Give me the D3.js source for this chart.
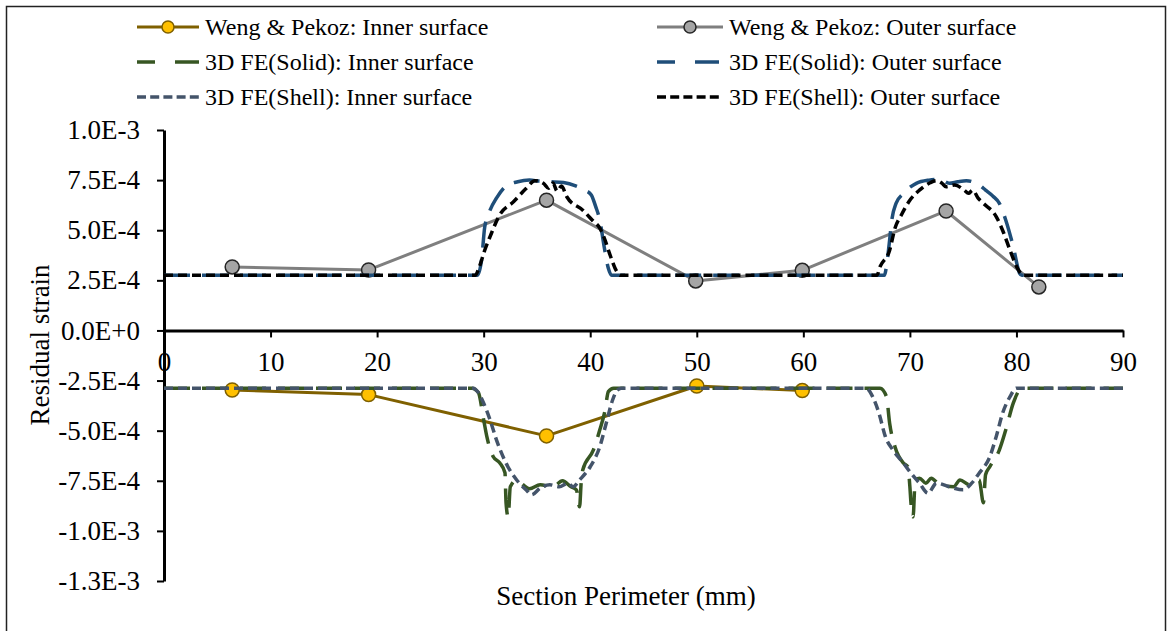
<!DOCTYPE html>
<html>
<head>
<meta charset="utf-8">
<script src="https://cdn.jsdelivr.net/npm/d3@7"></script>
<style>
  body { margin: 0; background: #fff; }
</style>
</head>
<body>
<script>
// axis ticks
var xTicks = [0, 10, 20, 30, 40, 50, 60, 70, 80, 90];
var yTicks = [1.0e-3, 7.5e-4, 5.0e-4, 2.5e-4, 0, -2.5e-4, -5.0e-4, -7.5e-4, -1.0e-3, -1.25e-3];
var yTickLabels = ["1.0E-3", "7.5E-4", "5.0E-4", "2.5E-4", "0.0E+0", "-2.5E-4", "-5.0E-4", "-7.5E-4", "-1.0E-3", "-1.3E-3"];

// Weng & Pekoz measured points
var wengInnerX = [6.4, 19.2, 35.9, 50.0, 59.9];
var wengInnerY = [-2.97e-4, -3.2e-4, -5.26e-4, -2.77e-4, -3.0e-4];
var wengOuterX = [6.4, 19.2, 35.9, 49.9, 59.9, 73.4, 82.1];
var wengOuterY = [3.17e-4, 3.02e-4, 6.5e-4, 2.47e-4, 3.0e-4, 5.96e-4, 2.17e-4];

// 3D FE (solid), inner surface
var solidInnerX = [0, 28.9, 29.5, 30.0, 30.3, 30.9, 31.5, 32.0, 32.1, 32.3, 32.5, 33.1, 33.7, 34.3, 35.3, 36.5, 37.4, 38.2, 38.7, 39.0, 39.15, 39.3, 40.3, 40.9, 41.4, 41.7, 42.2,
  67.2, 67.8, 68.1, 68.6, 69.4, 69.8, 70.0, 70.1, 70.3, 70.5, 70.9, 71.5, 72.0, 72.8, 74.1, 74.7, 75.6, 76.5, 76.9, 77.1, 77.5, 78.4, 79.0, 79.7, 80.3, 80.6, 90];
var solidInnerY = [-2.88e-4, -2.88e-4, -3.1e-4, -4.46e-4, -5.3e-4, -6.3e-4, -6.6e-4, -7.1e-4, -8.6e-4, -9.3e-4, -7.8e-4, -7.46e-4, -7.7e-4, -7.9e-4, -7.7e-4, -7.8e-4, -7.5e-4, -7.8e-4, -7.95e-4, -8.8e-4, -7.6e-4, -6.96e-4, -5.96e-4, -4.96e-4, -3.96e-4, -3.05e-4, -2.88e-4,
  -2.88e-4, -3.3e-4, -4.63e-4, -5.8e-4, -6.62e-4, -6.8e-4, -7.8e-4, -8.6e-4, -9.3e-4, -7.46e-4, -7.37e-4, -7.62e-4, -7.37e-4, -7.7e-4, -7.8e-4, -7.46e-4, -7.7e-4, -7.46e-4, -8.6e-4, -7.2e-4, -6.8e-4, -5.96e-4, -4.96e-4, -3.63e-4, -2.96e-4, -2.88e-4, -2.88e-4];

// 3D FE (solid), outer surface
var solidOuterX = [0, 29.4, 29.8, 30.1, 30.6, 31.2, 32.1, 33.2, 34.3, 35.2, 36.2, 37.5, 38.7, 39.5, 40.1, 40.5, 40.9, 41.3, 41.7, 42.0,
  67.6, 67.9, 68.1, 68.3, 68.7, 69.4, 70.6, 71.8, 72.8, 73.7, 74.5, 75.3, 76.5, 77.1, 77.8, 78.4, 79.0, 79.7, 80.3, 80.5, 90];
var solidOuterY = [2.75e-4, 2.75e-4, 3.5e-4, 5.16e-4, 6.0e-4, 6.6e-4, 7.2e-4, 7.42e-4, 7.5e-4, 7.45e-4, 7.42e-4, 7.38e-4, 7.2e-4, 7.0e-4, 6.76e-4, 6.2e-4, 5.5e-4, 4.2e-4, 3.1e-4, 2.75e-4,
  2.75e-4, 3.6e-4, 4.51e-4, 5.5e-4, 6.34e-4, 6.84e-4, 7.34e-4, 7.5e-4, 7.54e-4, 7.34e-4, 7.42e-4, 7.47e-4, 7.26e-4, 7.0e-4, 6.7e-4, 6.34e-4, 5.5e-4, 4.18e-4, 2.85e-4, 2.75e-4, 2.75e-4];

// 3D FE (shell), inner surface
var shellInnerX = [0, 29.0, 29.5, 30.0, 30.6, 31.2, 32.1, 33.1, 34.0, 34.5, 35.3, 36.2, 37.1, 37.9, 38.4, 39.0, 40.0, 40.9, 41.5, 42.1, 42.5, 42.9,
  65.9, 66.5, 67.1, 67.7, 68.4, 69.4, 70.1, 70.9, 71.7, 72.5, 73.7, 75.0, 75.8, 76.5, 77.5, 78.1, 78.7, 79.4, 80.0, 90];
var shellInnerY = [-2.88e-4, -2.88e-4, -3.1e-4, -3.63e-4, -4.46e-4, -5.46e-4, -6.62e-4, -7.46e-4, -7.96e-4, -8.2e-4, -7.87e-4, -7.7e-4, -7.8e-4, -7.62e-4, -7.8e-4, -7.46e-4, -6.8e-4, -5.8e-4, -4.63e-4, -3.47e-4, -3.0e-4, -2.88e-4,
  -2.88e-4, -3.3e-4, -4.13e-4, -5.3e-4, -5.96e-4, -6.62e-4, -7.12e-4, -7.62e-4, -8.12e-4, -7.62e-4, -7.8e-4, -7.95e-4, -7.62e-4, -7.12e-4, -6.3e-4, -5.3e-4, -4.13e-4, -3.3e-4, -2.88e-4, -2.88e-4];

// 3D FE (shell), outer surface
var shellOuterX = [0, 29.2, 29.6, 30.1, 30.6, 31.5, 32.8, 34.0, 34.8, 35.6, 36.1, 36.5, 36.9, 37.3, 37.8, 39.3, 40.2, 40.9, 41.4, 41.8, 42.5, 42.8,
  66.9, 67.2, 68.1, 68.6, 69.2, 69.9, 70.9, 71.9, 72.5, 73.0, 73.4, 74.2, 75.1, 75.5, 75.9, 76.4, 76.9, 78.1, 78.7, 79.4, 80.1, 80.4, 80.6, 90];
var shellOuterY = [2.75e-4, 2.75e-4, 3.18e-4, 4.0e-4, 4.68e-4, 5.76e-4, 6.42e-4, 7.09e-4, 7.47e-4, 7.34e-4, 7.1e-4, 7.35e-4, 6.95e-4, 7.2e-4, 6.67e-4, 6.0e-4, 5.5e-4, 5.1e-4, 4.5e-4, 3.86e-4, 2.93e-4, 2.75e-4,
  2.75e-4, 3.18e-4, 4.0e-4, 5.1e-4, 5.76e-4, 6.42e-4, 7.0e-4, 7.37e-4, 7.47e-4, 7.35e-4, 7.17e-4, 7.26e-4, 7.0e-4, 6.84e-4, 7.0e-4, 6.6e-4, 6.34e-4, 5.68e-4, 5.0e-4, 4.0e-4, 3.1e-4, 2.85e-4, 2.75e-4, 2.75e-4];

var series = [
  {name: "Weng & Pekoz: Inner surface", xs: wengInnerX, ys: wengInnerY, color: "#7F6000", width: 3, dash: null, marker: "#FFC000", markerStroke: "#7F6000"},
  {name: "Weng & Pekoz: Outer surface", xs: wengOuterX, ys: wengOuterY, color: "#7F7F7F", width: 3, dash: null, marker: "#A5A5A5", markerStroke: "#262626"},
  {name: "3D FE(Solid): Inner surface", xs: solidInnerX, ys: solidInnerY, color: "#375623", width: 3.5, dash: "26,12"},
  {name: "3D FE(Solid): Outer surface", xs: solidOuterX, ys: solidOuterY, color: "#1F4E79", width: 3.5, dash: "26,12"},
  {name: "3D FE(Shell): Inner surface", xs: shellInnerX, ys: shellInnerY, color: "#44546A", width: 3.5, dash: "9,5"},
  {name: "3D FE(Shell): Outer surface", xs: shellOuterX, ys: shellOuterY, color: "#000000", width: 3.5, dash: "9,5"}
];

var W = 1169, H = 631;
var svg = d3.select("body").append("svg")
    .attr("width", W)
    .attr("height", H);

// chart border
svg.append("rect")
    .attr("x", 6.5).attr("y", 6.5)
    .attr("width", 1159).attr("height", 650)
    .attr("fill", "none")
    .attr("stroke", "#222")
    .attr("stroke-width", 1.5);

var x = d3.scaleLinear().domain([0, 90]).range([164, 1123]);
var y = d3.scaleLinear().domain([-1.25e-3, 1.0e-3]).range([581, 130]);

// y axis
var yAxis = svg.append("g")
    .attr("transform", "translate(" + x(0) + ",0)")
    .call(d3.axisLeft(y).tickValues(yTicks)
        .tickFormat(function(d, i) { return yTickLabels[i]; })
        .tickSize(7).tickSizeOuter(0).tickPadding(17))
    .attr("font-family", null)
    .attr("font-size", null);
yAxis.select(".domain").attr("stroke", "#000").attr("stroke-width", 3);
yAxis.selectAll(".tick line").attr("stroke", "#000").attr("stroke-width", 2);
yAxis.selectAll("text").attr("font-size", 27);

// x axis at zero
var xAxis = svg.append("g")
    .attr("transform", "translate(0," + y(0) + ")")
    .call(d3.axisBottom(x).tickValues(xTicks)
        .tickSize(7).tickSizeOuter(0).tickPadding(14))
    .attr("font-family", null)
    .attr("font-size", null);
xAxis.select(".domain").attr("stroke", "#000").attr("stroke-width", 3);
xAxis.selectAll(".tick line").attr("stroke", "#000").attr("stroke-width", 2);
xAxis.selectAll("text").attr("font-size", 27);

// axis titles
svg.append("text")
    .attr("x", 626).attr("y", 605)
    .attr("text-anchor", "middle")
    .attr("font-size", 27)
    .text("Section Perimeter (mm)");

svg.append("text")
    .attr("transform", "translate(49,345) rotate(-90)")
    .attr("text-anchor", "middle")
    .attr("font-size", 27)
    .text("Residual strain");

// series
var line = d3.line()
    .x(function(d) { return x(d[0]); })
    .y(function(d) { return y(d[1]); });

series.forEach(function(s) {
  var pts = s.xs.map(function(v, i) { return [v, s.ys[i]]; });
  svg.append("path")
      .datum(pts)
      .attr("fill", "none")
      .attr("stroke", s.color)
      .attr("stroke-width", s.width)
      .attr("stroke-dasharray", s.dash)
      .attr("stroke-linejoin", "round")
      .attr("d", line.curve(s.dash ? d3.curveMonotoneX : d3.curveLinear));
  if (s.marker) {
    svg.append("g").selectAll("circle")
        .data(pts)
        .enter()
        .append("circle")
        .attr("cx", function(d) { return x(d[0]); })
        .attr("cy", function(d) { return y(d[1]); })
        .attr("r", 7)
        .attr("fill", s.marker)
        .attr("stroke", s.markerStroke)
        .attr("stroke-width", 1.5);
  }
});

// legend (two columns, three rows)
var legCols = [{x0: 137, x1: 199, tx: 205}, {x0: 657, x1: 723, tx: 729}];
var legRows = [27, 62, 97];
series.forEach(function(s, i) {
  var c = legCols[i % 2], ry = legRows[Math.floor(i / 2)];
  var g = svg.append("g");
  g.append("line")
      .attr("x1", c.x0).attr("x2", c.x1)
      .attr("y1", ry).attr("y2", ry)
      .attr("stroke", s.color)
      .attr("stroke-width", s.width)
      .attr("stroke-dasharray", s.dash ? (s.dash === "26,12" ? "18,20,24" : "9,4.2") : null);
  if (s.marker) {
    g.append("circle")
        .attr("cx", (c.x0 + c.x1) / 2).attr("cy", ry)
        .attr("r", 6)
        .attr("fill", s.marker)
        .attr("stroke", s.markerStroke)
        .attr("stroke-width", 1.5);
  }
  g.append("text")
      .attr("x", c.tx).attr("y", ry + 8)
      .attr("font-size", 24)
      .text(s.name);
});

// all text in Times-style serif
svg.selectAll("text")
    .style("font-family", "'Liberation Serif'")
    .attr("fill", "#000");
</script>
</body>
</html>
